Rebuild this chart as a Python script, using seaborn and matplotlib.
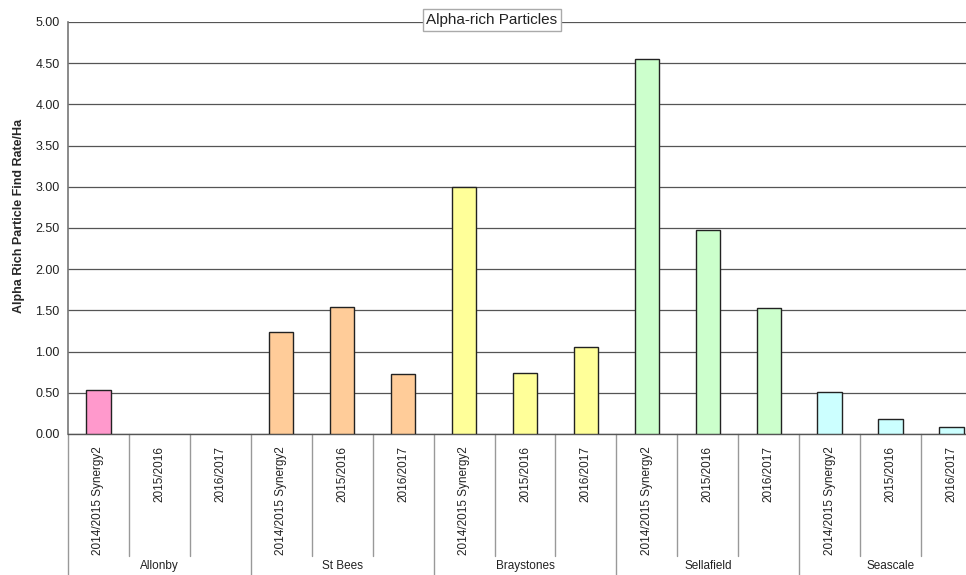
import matplotlib
matplotlib.use("Agg")
import matplotlib.pyplot as plt
import matplotlib.transforms as mtransforms
import seaborn as sns
import pandas as pd
import numpy as np

# ---- data ----
sites = ["Allonby", "St Bees", "Braystones", "Sellafield", "Seascale"]
periods = ["2014/2015 Synergy2", "2015/2016", "2016/2017"]
allonby = [0.53, 0.0, 0.0]
st_bees = [1.24, 1.54, 0.73]
braystones = [3.00, 0.74, 1.05]
sellafield = [4.55, 2.48, 1.53]
seascale = [0.51, 0.18, 0.08]
site_colors = ["#FF99CC", "#FFCC99", "#FFFF99", "#CCFFCC", "#CCFFFF"]

values = allonby + st_bees + braystones + sellafield + seascale
rows = []
for gi, s in enumerate(sites):
    for pi, p in enumerate(periods):
        rows.append({"slot": f"{s}|{p}", "site": s, "period": p,
                     "rate": values[gi * 3 + pi]})
df = pd.DataFrame(rows)

sns.set_theme(style="white")
plt.rcParams["font.family"] = ["Liberation Sans", "DejaVu Sans"]

fig = plt.figure(figsize=(9.66, 5.75), dpi=100)
ax = fig.add_axes([68 / 966, (575 - 434) / 575, (982 - 68) / 966, (434 - 22) / 575])

sns.barplot(data=df[df["rate"] > 0], x="slot", y="rate", hue="site", palette=site_colors,
            order=list(df["slot"]), hue_order=sites,
            dodge=False, width=0.4, edgecolor="#222222", linewidth=1.0, saturation=1,
            legend=False, ax=ax, zorder=3)

ax.set_ylim(0, 5)
ax.set_xlim(-0.5, len(df) - 0.5)
ax.set_yticks(np.arange(0, 5.01, 0.5))
ax.set_yticklabels([f"{v:.2f}" for v in np.arange(0, 5.01, 0.5)], fontsize=9, color="#222222")
ax.yaxis.grid(True, color="#555555", linewidth=0.9, zorder=0)
ax.set_axisbelow(True)
for sp in ["top", "right"]:
    ax.spines[sp].set_visible(False)
ax.spines["left"].set_color("#777777")
ax.spines["left"].set_linewidth(1.2)
ax.spines["bottom"].set_color("#555555")
ax.spines["bottom"].set_linewidth(1.0)

ax.set_xticks(range(len(df)))
ax.set_xticklabels(df["period"], rotation=90, fontsize=8.5, va="top", ha="center", color="#222222")
ax.tick_params(axis="x", length=0, pad=9)
ax.tick_params(axis="y", length=0, pad=6)
ax.set_xlabel("")
ax.set_ylabel("Alpha Rich Particle Find Rate/Ha", fontsize=9, fontweight="bold")
ax.yaxis.set_label_coords(-0.047, 0.53)

# multi-level category axis separators
trans = mtransforms.blended_transform_factory(ax.transData, ax.transAxes)
n = len(df)
for i in range(n + 1):
    xb = i - 0.5
    if i % 3 == 0:
        ax.plot([xb, xb], [0, -0.45], transform=trans, color="#999999", lw=1.0, clip_on=False)
    else:
        ax.plot([xb, xb], [0, -0.296], transform=trans, color="#999999", lw=1.0, clip_on=False)
for gi, s in enumerate(sites):
    ax.text(gi * 3 + 1, -0.306, s, transform=trans, ha="center", va="top",
            fontsize=8.5, color="#222222")

# title box
fig.text(492 / 966, 1 - 20 / 575, "Alpha-rich Particles", ha="center", va="center",
         fontsize=11, color="#222222",
         bbox=dict(boxstyle="square,pad=0.25", facecolor="white", edgecolor="#aaaaaa", linewidth=1))

fig.savefig("out.png", dpi=100)
